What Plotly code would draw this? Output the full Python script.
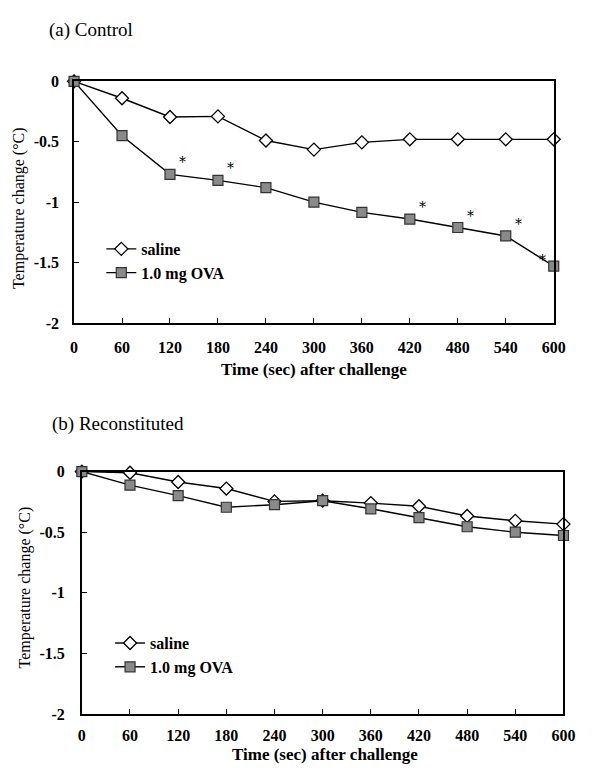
import plotly.graph_objects as go

# ---------------- data ----------------
time_sec = [0, 60, 120, 180, 240, 300, 360, 420, 480, 540, 600]

control_saline = [0, -0.14, -0.295, -0.29, -0.49, -0.565, -0.505, -0.48, -0.48, -0.48, -0.48]
control_ova = [0, -0.45, -0.77, -0.82, -0.88, -1.0, -1.085, -1.14, -1.21, -1.28, -1.53]
control_sig_times = [120, 180, 420, 480, 540, 600]

recon_saline = [0, -0.01, -0.086, -0.14, -0.246, -0.24, -0.26, -0.286, -0.366, -0.406, -0.433]
recon_ova = [0, -0.112, -0.198, -0.294, -0.273, -0.24, -0.307, -0.38, -0.455, -0.5, -0.527]

x_ticks = [0, 60, 120, 180, 240, 300, 360, 420, 480, 540, 600]
y_ticks = [0, -0.5, -1, -1.5, -2]
y_ticklabels = ["0", "-0.5", "-1", "-1.5", "-2"]

series_names = ["saline", "1.0 mg OVA"]
panel_titles = ["(a) Control", "(b) Reconstituted"]
x_title = "Time (sec) after challenge"
y_title = "Temperature change (\u00b0C)"

# ---------------- layout helpers ----------------
W, H = 592, 773
FONT = "Liberation Serif"


def px_x(p):
    return p / W


def px_y(p):
    return 1 - p / H


fig = go.Figure()

saline_marker = dict(symbol="diamond", size=10, color="white",
                     line=dict(color="black", width=1.3))
ova_marker = dict(symbol="square", size=10, color="#8a8a8a",
                  line=dict(color="#333333", width=1.2))
line_style = dict(color="black", width=1.4)

panels = [
    dict(xa="x", ya="y", sal=control_saline, ova=control_ova, legend="legend"),
    dict(xa="x2", ya="y2", sal=recon_saline, ova=recon_ova, legend="legend2"),
]

for p in panels:
    fig.add_trace(go.Scatter(x=time_sec, y=p["sal"], name=series_names[0],
                             mode="lines+markers", marker=saline_marker,
                             line=line_style, xaxis=p["xa"], yaxis=p["ya"],
                             legend=p["legend"], cliponaxis=False))
    fig.add_trace(go.Scatter(x=time_sec, y=p["ova"], name=series_names[1],
                             mode="lines+markers", marker=ova_marker,
                             line=line_style, xaxis=p["xa"], yaxis=p["ya"],
                             legend=p["legend"], cliponaxis=False))

# significance asterisks (panel a)
annotations = []
for t in control_sig_times:
    i = time_sec.index(t)
    last = (t == time_sec[-1])
    annotations.append(dict(
        x=t, y=control_ova[i], xref="x", yref="y", text="*",
        showarrow=False, font=dict(family="DejaVu Serif", size=14, color="black"),
        xshift=-11 if last else 13, yshift=6 if last else 12))

tick_font = dict(family=FONT, size=16, color="black", weight="bold")
axis_common = dict(
    showline=True, linecolor="black", linewidth=1.8, mirror=True,
    ticks="inside", ticklen=5, tickcolor="black", tickwidth=1,
    showgrid=False, zeroline=False, tickfont=tick_font,
)

legend_font = dict(family=FONT, size=16, color="black", weight="bold")

fig.update_layout(
    width=W, height=H,
    margin=dict(l=0, r=0, t=0, b=0),
    paper_bgcolor="white", plot_bgcolor="white",
    font=dict(family=FONT, color="black"),
    showlegend=True,
    xaxis=dict(**axis_common, range=[0, 600],
               domain=[px_x(72), px_x(565)], anchor="y",
               tickvals=x_ticks, ticklabelstandoff=9),
    yaxis=dict(**axis_common, range=[-2, 0],
               domain=[px_y(322), px_y(75)], anchor="x",
               tickvals=y_ticks, ticktext=y_ticklabels, ticklabelstandoff=10),
    xaxis2=dict(**axis_common, range=[0, 600],
                domain=[px_x(80), px_x(575)], anchor="y2",
                tickvals=x_ticks, ticklabelstandoff=6),
    yaxis2=dict(**axis_common, range=[-2, 0],
                domain=[px_y(722), px_y(474)], anchor="x2",
                tickvals=y_ticks, ticktext=y_ticklabels, ticklabelstandoff=12),
    legend=dict(x=px_x(100), y=px_y(229), xanchor="left", yanchor="top",
                xref="paper", yref="paper", bgcolor="rgba(0,0,0,0)",
                font=legend_font, itemwidth=30, tracegroupgap=0),
    legend2=dict(x=px_x(109), y=px_y(632), xanchor="left", yanchor="top",
                 xref="paper", yref="paper", bgcolor="rgba(0,0,0,0)",
                 font=legend_font, itemwidth=30, tracegroupgap=0),
)

title_font = dict(family=FONT, size=19, color="black")
xtitle_font = dict(family=FONT, size=17, color="black", weight="bold")
ytitle_font = dict(family=FONT, size=16, color="black")

annotations += [
    dict(x=px_x(44), y=px_y(22), xref="paper", yref="paper", text=panel_titles[0],
         showarrow=False, xanchor="left", yanchor="middle", font=title_font),
    dict(x=px_x(47), y=px_y(425), xref="paper", yref="paper", text=panel_titles[1],
         showarrow=False, xanchor="left", yanchor="middle", font=title_font),
    dict(x=px_x(319), y=px_y(370), xref="paper", yref="paper", text=x_title,
         showarrow=False, xanchor="center", yanchor="middle", font=xtitle_font),
    dict(x=px_x(330), y=0, xref="paper", yref="paper", text=x_title,
         showarrow=False, xanchor="center", yanchor="bottom", yshift=-2,
         font=xtitle_font),
    dict(x=px_x(16), y=px_y(205), xref="paper", yref="paper", text=y_title,
         showarrow=False, textangle=-90, xanchor="center", yanchor="middle",
         font=ytitle_font),
    dict(x=px_x(22), y=px_y(592), xref="paper", yref="paper", text=y_title,
         showarrow=False, textangle=-90, xanchor="center", yanchor="middle",
         font=ytitle_font),
]
fig.update_layout(annotations=annotations)

fig.write_html("out.html")
